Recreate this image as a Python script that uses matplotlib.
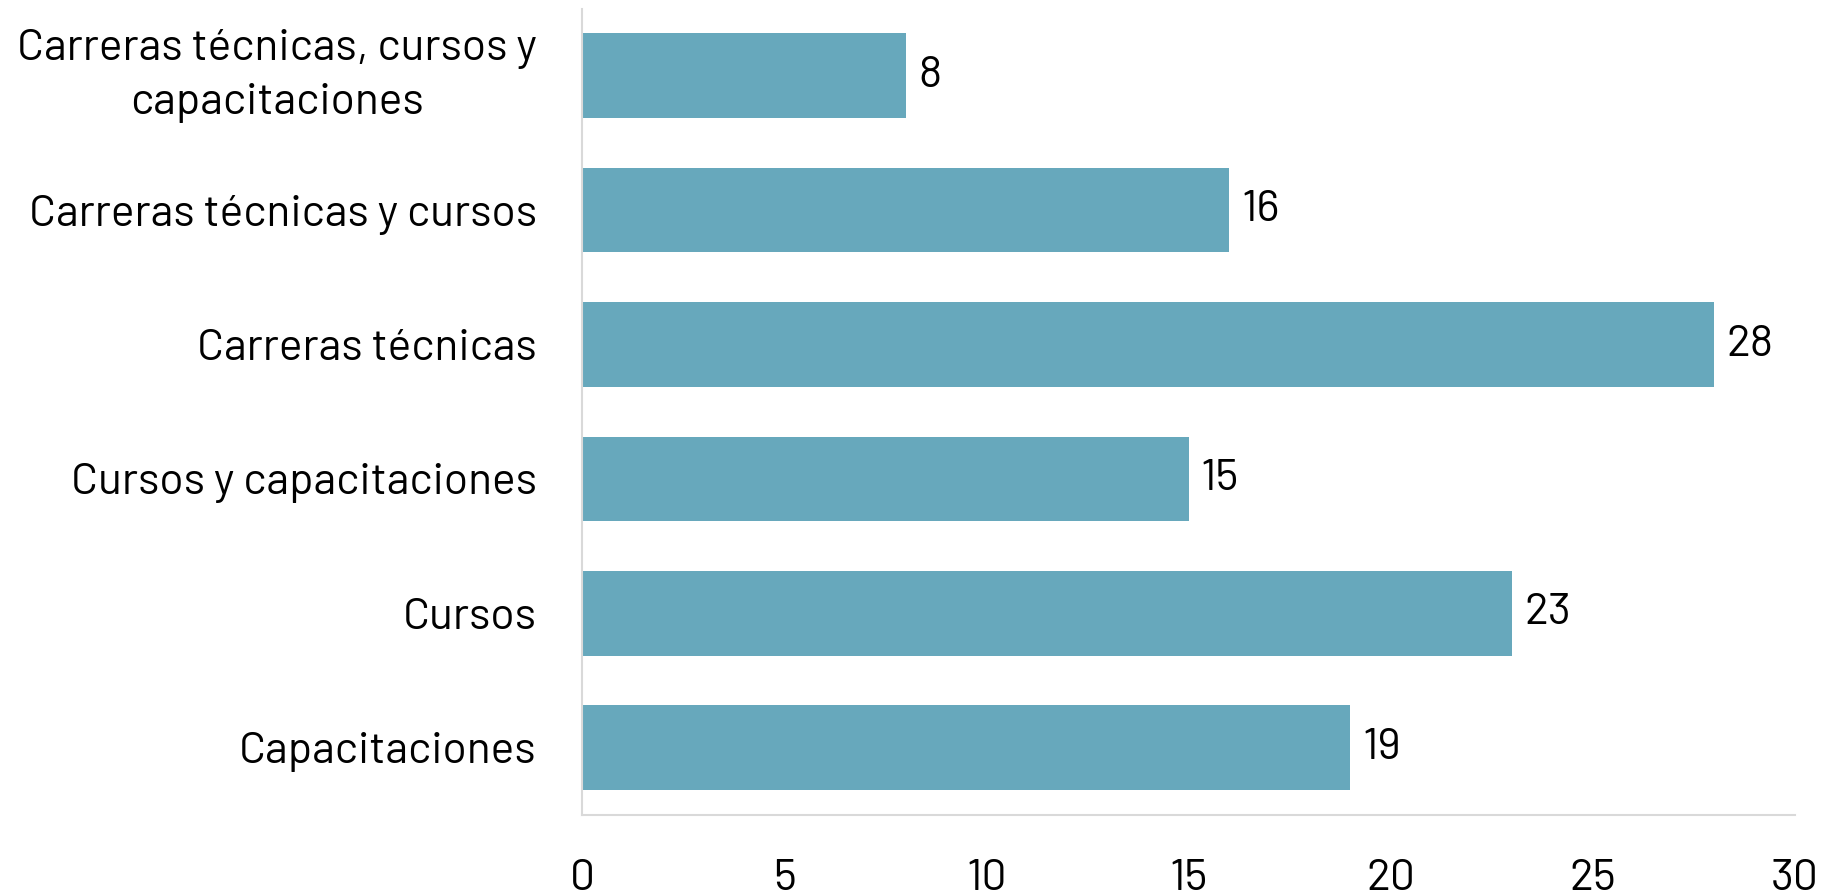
import matplotlib
matplotlib.use("Agg")
import matplotlib.pyplot as plt

# data (top to bottom)
categories = [
    "Carreras técnicas, cursos y\ncapacitaciones",
    "Carreras técnicas y cursos",
    "Carreras técnicas",
    "Cursos y capacitaciones",
    "Cursos",
    "Capacitaciones",
]
values = [8, 16, 28, 15, 23, 19]
xticks = [0, 5, 10, 15, 20, 25, 30]

plt.rcParams['font.family'] = ['Barlow', 'Barlow Semi Condensed', 'DejaVu Sans']

bar_color = '#67A8BC'
grid_color = '#D9D9D9'

fig = plt.figure(figsize=(18.34, 8.96), dpi=100)
ax = fig.add_axes([0.3176, 0.0904, 0.9787 - 0.3176, 0.9905 - 0.0904])

# reverse so the first category sits at the top
y = list(range(len(categories)))[::-1]
bars = ax.barh(y, values, height=0.63, color=bar_color)

for yi, v in zip(y, values):
    ax.text(v + 0.3, yi, str(v), va='center', ha='left', fontsize=32)

ax.set_xlim(0, 30)
ax.set_ylim(-0.5, 5.5)
ax.set_xticks(xticks)
ax.set_xticklabels([str(t) for t in xticks], fontsize=32)
ax.set_yticks(y)
ax.set_yticklabels(categories, fontsize=32, multialignment='center', linespacing=1.45)
# two-line label: centre the whole block on the bar
for lab in ax.get_yticklabels():
    if "\n" in lab.get_text():
        lab.set_va('center')
ax.tick_params(axis='both', length=0)
ax.tick_params(axis='x', pad=32)
ax.tick_params(axis='y', pad=33)

for side in ['top', 'right']:
    ax.spines[side].set_visible(False)
for side in ['left', 'bottom']:
    ax.spines[side].set_color(grid_color)
    ax.spines[side].set_linewidth(1.5)

fig.savefig("out.png", dpi=100)
